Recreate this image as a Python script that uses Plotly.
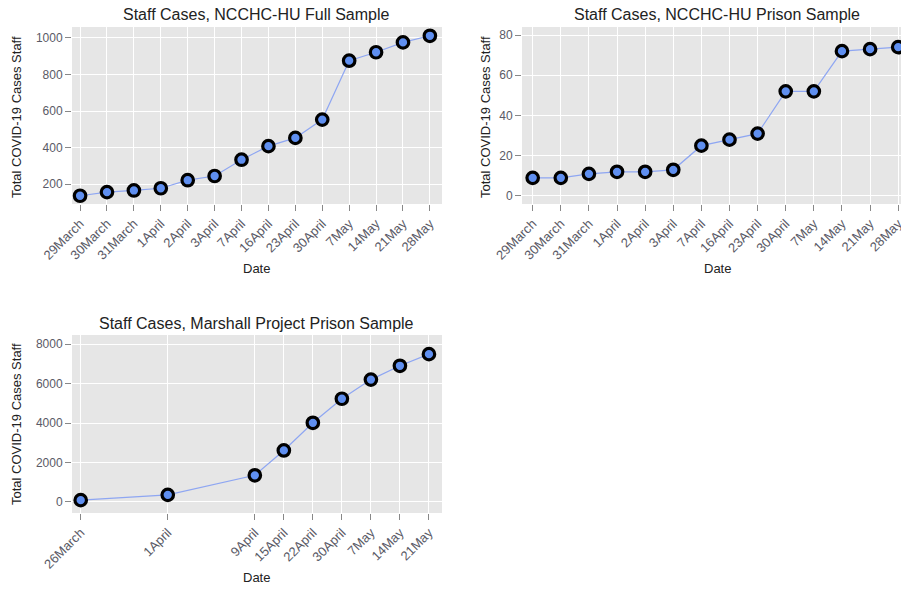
import plotly.graph_objects as go

# ---- data ----
ncchc_dates = ["29March", "30March", "31March", "1April", "2April", "3April", "7April",
               "16April", "23April", "30April", "7May", "14May", "21May", "28May"]
full_cases = [137, 157, 166, 178, 222, 245, 334, 408, 453, 553, 875, 921, 975, 1011]
prison_cases = [9, 9, 11, 12, 12, 13, 25, 28, 31, 52, 52, 72, 73, 74]

# Marshall Project: category slots, None where no observation
marshall_dates = ["26March", "29March", "31March", "1April", "3April", "7April", "9April",
                  "15April", "22April", "30April", "7May", "14May", "21May"]
marshall_cases = [90, None, None, 360, None, None, 1350, 2610, 4010, 5230, 6200, 6900, 7490]
marshall_ticks = [d for d, v in zip(marshall_dates, marshall_cases) if v is not None]

titles = ["Staff Cases, NCCHC-HU Full Sample",
          "Staff Cases, NCCHC-HU Prison Sample",
          "Staff Cases, Marshall Project Prison Sample"]
y_title = "Total COVID-19 Cases Staff"
x_title = "Date"

W, H = 901, 591
FONT = "Arial, Liberation Sans, sans-serif"
LINE_C = "#8ea6f2"
FILL_C = "#5f8ff0"

fig = go.Figure()

def add_series(x, y, xa, ya):
    fig.add_trace(go.Scatter(
        x=x, y=y, xaxis=xa, yaxis=ya, mode="lines+markers",
        connectgaps=True,
        line=dict(color=LINE_C, width=1.2),
        marker=dict(size=11.5, color=FILL_C, line=dict(color="black", width=3.2)),
        showlegend=False, hoverinfo="x+y"))

add_series(ncchc_dates, full_cases, "x", "y")
add_series(ncchc_dates, prison_cases, "x2", "y2")
add_series(marshall_dates, marshall_cases, "x3", "y3")

def px_x(p):
    return p / W

def px_y(p):
    return 1 - p / H

common_x = dict(type="category", tickangle=-45, showgrid=True, gridcolor="white", gridwidth=1,
                ticks="outside", ticklen=6, tickcolor="#888", tickwidth=1,
                tickfont=dict(size=13, color="#5a5a66", family=FONT),
                showline=False, zeroline=False, fixedrange=True, automargin=False)
common_y = dict(showgrid=True, gridcolor="white", gridwidth=1,
                ticks="outside", ticklen=6, tickcolor="#888", tickwidth=1,
                tickfont=dict(size=12, color="#5a5a66", family=FONT),
                showline=False, zeroline=False, fixedrange=True, automargin=False)

fig.update_layout(
    width=W, height=H,
    margin=dict(l=0, r=0, t=0, b=0, autoexpand=False),
    paper_bgcolor="white", plot_bgcolor="#e6e6e6",
    font=dict(family=FONT),
    xaxis=dict(common_x, domain=[px_x(72), px_x(442)], anchor="y",
               categoryorder="array", categoryarray=ncchc_dates, range=[-0.3, 13.45]),
    yaxis=dict(common_y, domain=[px_y(204), px_y(27)], anchor="x",
               range=[92, 1059], tickvals=[200, 400, 600, 800, 1000]),
    xaxis2=dict(common_x, domain=[px_x(522), 1.0], anchor="y2",
                categoryorder="array", categoryarray=ncchc_dates, range=[-0.38, 13.1]),
    yaxis2=dict(common_y, domain=[px_y(204), px_y(27)], anchor="x2",
                range=[-4, 84], tickvals=[0, 20, 40, 60, 80]),
    xaxis3=dict(common_x, domain=[px_x(72), px_x(442)], anchor="y3",
                categoryorder="array", categoryarray=marshall_dates,
                tickvals=marshall_ticks, ticktext=marshall_ticks, range=[-0.3, 12.45]),
    yaxis3=dict(common_y, domain=[px_y(513), px_y(335)], anchor="x3",
                range=[-560, 8460], tickvals=[0, 2000, 4000, 6000, 8000]),
)

ann = []
for t, (cx, cy) in zip(titles, [(256, 15), (717, 15), (256, 323)]):
    ann.append(dict(text=t, x=px_x(cx), y=px_y(cy), xref="paper", yref="paper",
                    showarrow=False, xanchor="center", yanchor="middle",
                    font=dict(size=16, color="#222", family=FONT)))
for cx, cy in [(256, 268), (717, 268), (256, 577)]:
    ann.append(dict(text=x_title, x=px_x(cx), y=px_y(cy), xref="paper", yref="paper",
                    showarrow=False, xanchor="center", yanchor="middle",
                    font=dict(size=13, color="#222", family=FONT)))
for cx, cy in [(16, 117), (485, 117), (16, 424)]:
    ann.append(dict(text=y_title, x=px_x(cx), y=px_y(cy), xref="paper", yref="paper",
                    showarrow=False, xanchor="center", yanchor="middle", textangle=-90,
                    font=dict(size=13, color="#222", family=FONT)))
fig.update_layout(annotations=ann)

fig.write_html("out.html", config={"displayModeBar": False},
               post_script="document.body.style.margin='0';document.body.style.overflow='hidden';")
